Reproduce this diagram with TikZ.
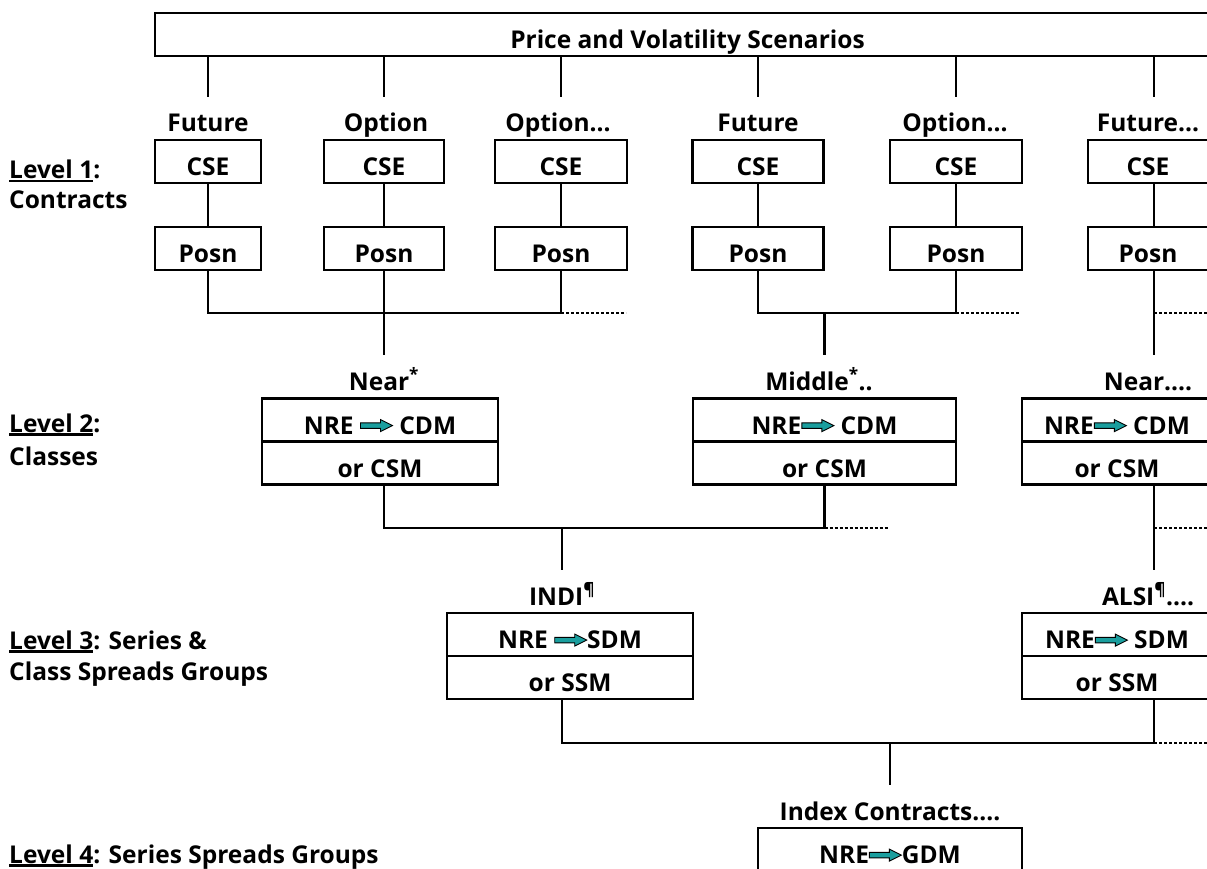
\documentclass[tikz,border=0pt]{standalone}
\usepackage{fontspec}
\setmainfont{Open Sans}
\usepackage{tikz}
\usetikzlibrary{positioning}
\definecolor{arrowteal}{RGB}{26,158,158}
\newcommand{\flowarrow}{\tikz[baseline=0pt,x=1pt,y=1pt,line width=0.9pt]\draw[fill=arrowteal] (0,5.6)--(20,5.6)--(20,2.4)--(32,8.4)--(20,14.4)--(20,11.2)--(0,11.2)--cycle;}
\newcommand{\lvlul}[1]{\setbox0\hbox{#1}\rlap{\rule[-3.5pt]{\wd0}{2.2pt}}\box0}

\begin{document}
\begin{tikzpicture}[x=1pt,y=-1pt,line width=2.4pt,
    font=\fontsize{24.5}{29}\selectfont\bfseries,
    cellbox/.style={draw,inner sep=0pt,outer sep=0pt,minimum height=43pt,text height=28pt,text depth=0pt},
    lbl/.style={inner sep=0pt,minimum height=40pt,text height=28pt,text depth=0pt},
    lvl/.style={anchor=base west,inner sep=0pt},
    dotline/.style={line width=2.6pt,dash pattern=on 3pt off 2pt}]
    \useasboundingbox (0,0) rectangle (1207,869);
    \clip (0,0) rectangle (1207,869);
    %%% SCENARIOS %%%
    \node[cellbox,minimum width=1065pt] (scen) at (687.5,34.5){Price and Volatility Scenarios};
    % level names %
    \node[lvl] (lev1) at (8,179){\lvlul{Level 1}:};
    \node[lvl] (lev1b) at (8,208){Contracts};
    \node[lvl] (lev2) at (8,432){\lvlul{Level 2}:};
    \node[lvl] (lev2b) at (8,465){Classes};
    \node[lvl] (lev3) at (8,649){\lvlul{Level 3}: Series \&};
    \node[lvl] (lev3b) at (8,680){Class Spreads Groups};
    \node[lvl] (lev4) at (8,863){\lvlul{Level 4}: Series Spreads Groups};
    %%% LEVEL 1: CONTRACTS %%%
    % contract names %
    \node[lbl] (fut1) at (208,118){Future};
    \node[lbl] (opt1) at (386,118){Option};
    \node[lbl] (opt2) at (558,118){Option...};
    \node[lbl] (fut2) at (758,118){Future};
    \node[lbl] (opt3) at (955,118){Option...};
    \node[lbl] (fut3) at (1148,118){Future...};
    % CSE boxes %
    \node[cellbox,minimum width=106pt] (cse1) at (208,161.5){CSE};
    \node[cellbox,minimum width=120pt] (cse2) at (384,161.5){CSE};
    \node[cellbox,minimum width=132pt] (cse3) at (561,161.5){CSE};
    \node[cellbox,minimum width=131pt] (cse4) at (758,161.5){CSE};
    \node[cellbox,minimum width=132pt] (cse5) at (956,161.5){CSE};
    \node[cellbox,minimum width=120pt] (cse6) at (1148,161.5){CSE};
    % position boxes %
    \node[cellbox,minimum width=106pt] (posn1) at (208,248.5){Posn};
    \node[cellbox,minimum width=120pt] (posn2) at (384,248.5){Posn};
    \node[cellbox,minimum width=132pt] (posn3) at (561,248.5){Posn};
    \node[cellbox,minimum width=131pt] (posn4) at (758,248.5){Posn};
    \node[cellbox,minimum width=132pt] (posn5) at (956,248.5){Posn};
    \node[cellbox,minimum width=120pt] (posn6) at (1148,248.5){Posn};
    \coordinate (col6) at (1154,0);
    % stubs from scenarios %
    \draw (scen.south -| cse1)--(fut1.north -| cse1);
    \draw (scen.south -| cse2)--(opt1.north -| cse2);
    \draw (scen.south -| cse3)--(opt2.north -| cse3);
    \draw (scen.south -| cse4)--(fut2.north -| cse4);
    \draw (scen.south -| cse5)--(opt3.north -| cse5);
    \draw (scen.south -| col6)--(fut3.north -| col6);
    % CSE to Posn %
    \draw (cse1)--(posn1);
    \draw (cse2)--(posn2);
    \draw (cse3)--(posn3);
    \draw (cse4)--(posn4);
    \draw (cse5)--(posn5);
    \draw (cse6.south -| col6)--(posn6.north -| col6);
    %%% LEVEL 2: CLASSES %%%
    \coordinate (bus1) at (0,313);
    \coordinate (dot1) at (626,313);
    \coordinate (dot2) at (1020,313);
    \coordinate (dot3) at (1210,313);
    \node[lbl] (near1) at (384,376){Near\textsuperscript{*}};
    \node[lbl] (mid) at (819,376){Middle\textsuperscript{*}..};
    \node[lbl] (near2) at (1148,376){Near....};
    \node[cellbox,minimum width=236pt] (nearA) at (380,420){NRE \flowarrow\ CDM};
    \node[cellbox,minimum width=236pt,below=0pt of nearA] (nearB){or CSM};
    \node[cellbox,minimum width=263pt] (midA) at (824.5,420){NRE\flowarrow\ CDM};
    \node[cellbox,minimum width=263pt,below=0pt of midA] (midB){or CSM};
    \node[cellbox,minimum width=190pt] (near2A) at (1117,420){NRE\flowarrow\ CDM};
    \node[cellbox,minimum width=190pt,below=0pt of near2A] (near2B){or CSM};
    % joins of positions %
    \draw (posn1.south)--(bus1 -| posn1)--(bus1 -| posn3)--(posn3.south);
    \draw (posn2.south)--(near1.north);
    \draw[dotline] (bus1 -| posn3)--(dot1);
    \draw (posn4.south)--(bus1 -| posn4)--(bus1 -| posn5)--(posn5.south);
    \draw (bus1 -| midA)--(mid.north -| midA);
    \draw[dotline] (bus1 -| posn5)--(dot2);
    \draw (posn6.south -| col6)--(near2.north -| col6);
    \draw[dotline] (bus1 -| col6)--(dot3);
    %%% LEVEL 3: SERIES %%%
    \coordinate (bus2) at (0,528);
    \coordinate (dot4) at (889,528);
    \coordinate (dot5) at (1210,528);
    \node[lbl] (indi) at (562,591){INDI\textsuperscript{¶}};
    \node[lbl] (alsi) at (1148,591){ALSI\textsuperscript{¶}....};
    \node[cellbox,minimum width=246pt] (indiA) at (570,634.5){NRE \flowarrow SDM};
    \node[cellbox,minimum width=246pt,below=0pt of indiA] (indiB){or SSM};
    \node[cellbox,minimum width=190pt] (alsiA) at (1117,634.5){NRE\flowarrow\ SDM};
    \node[cellbox,minimum width=190pt,below=0pt of alsiA] (alsiB){or SSM};
    % joins of classes %
    \draw (nearB.south -| near1)--(bus2 -| near1)--(bus2 -| midA)--(midB.south);
    \draw[dotline] (bus2 -| midA)--(dot4);
    \draw (bus2 -| indi)--(indi.north);
    \draw (near2B.south -| col6)--(alsi.north -| col6);
    \draw[dotline] (bus2 -| col6)--(dot5);
    %%% LEVEL 4: SERIES SPREADS %%%
    \coordinate (bus3) at (0,743);
    \coordinate (dot6) at (1210,743);
    \node[lbl] (idx) at (890,806){Index Contracts....};
    \node[cellbox,minimum width=264pt] (idxA) at (890,849.5){NRE\flowarrow GDM};
    % joins of series %
    \draw (indiB.south -| indi)--(bus3 -| indi)--(bus3 -| col6)--(alsiB.south -| col6);
    \draw[dotline] (bus3 -| col6)--(dot6);
    \draw (bus3 -| idxA)--(idx.north);
\end{tikzpicture}
\end{document}
